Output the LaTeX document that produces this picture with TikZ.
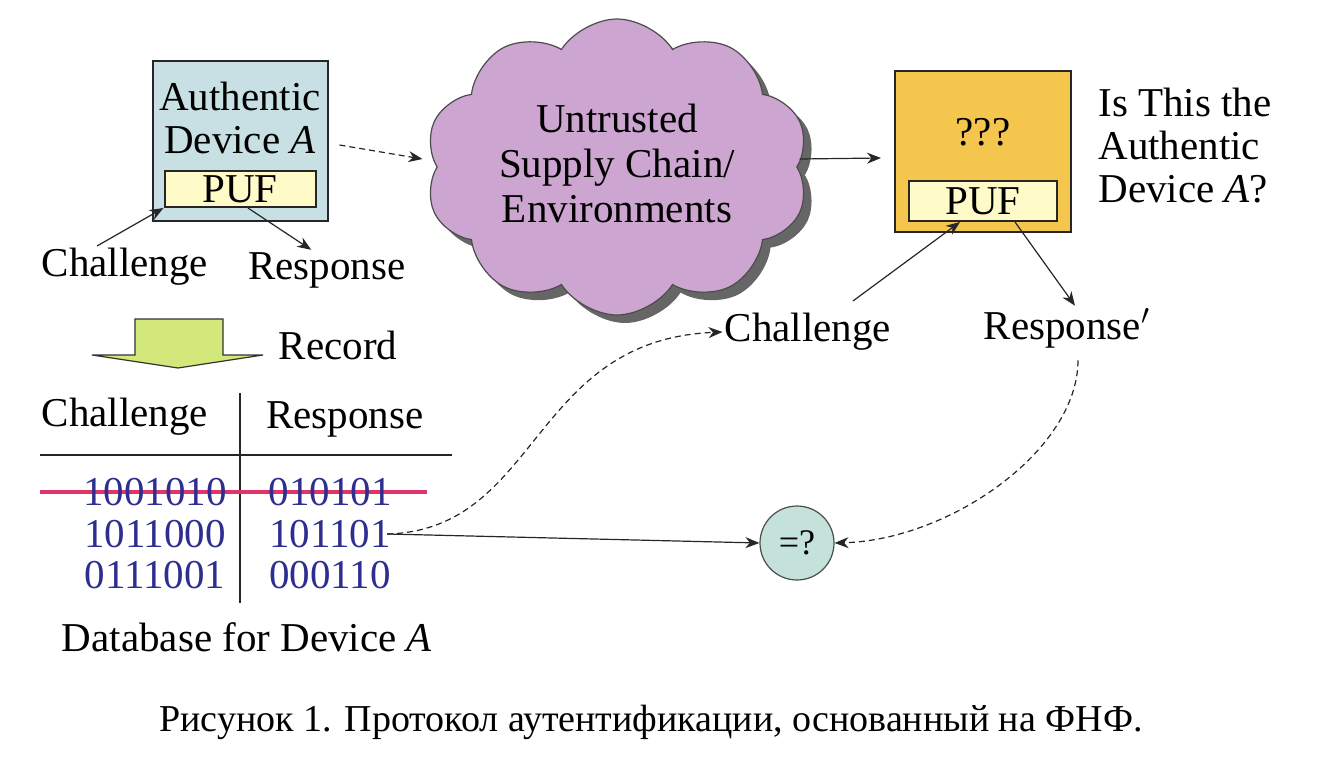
\documentclass[tikz,border=0pt]{standalone}
\usepackage{fontspec}
\setmainfont{Liberation Serif}
\newfontfamily\figserif{Liberation Serif}
\usetikzlibrary{shapes.symbols,shadows,arrows.meta,calc}
\definecolor{devblue}{RGB}{200,224,228}
\definecolor{pufyellow}{RGB}{255,251,200}
\definecolor{cloudpink}{RGB}{204,166,208}
\definecolor{devorange}{RGB}{244,198,78}
\definecolor{eqgreen}{RGB}{196,226,218}
\definecolor{recgreen}{RGB}{210,232,122}
\definecolor{bitblue}{RGB}{46,46,144}
\definecolor{strikered}{RGB}{226,52,104}
\tikzset{
  box/.style={draw=black!85,line width=1pt,inner sep=0pt},
  pufbox/.style={box,fill=pufyellow},
  lbl/.style={inner sep=1pt,font=\figserif\fontsize{20.5pt}{21.5pt}\selectfont},
  bits/.style={lbl,text=bitblue},
  arr/.style={-{Stealth[length=7pt,width=5.5pt]},line width=0.6pt,black!85},
}
\begin{document}
\begin{tikzpicture}[x=0.5pt,y=-0.5pt]
\useasboundingbox (0,0) rectangle (1330,760);
% authentic device
\node[box,fill=devblue,minimum width=87.5pt,minimum height=80pt] (devA) at (240,141) {};
\node[lbl,align=center] (devAtxt) at (240,118) {Authentic\\Device \textit{A}};
\node[pufbox,minimum width=75.5pt,minimum height=18pt] (pufA) at (240,189) {};
\node[lbl] (pufAtxt) at (240,189) {PUF};
\node[lbl] (chalA) at (125,267) {Challenge};
\node[lbl] (respA) at (327,270) {Response};
\draw[arr] (chalA.143) -- (pufA.south west);
\draw[arr] ($(pufA.south)+(8,0)$) -- (respA.128);
% supply chain
\node[cloud,cloud puffs=10,cloud puff arc=115,cloud ignores aspect,draw=black!70,line width=0.6pt,
  fill=cloudpink,minimum width=192pt,minimum height=148pt,inner sep=0pt,
  drop shadow={shadow xshift=4pt,shadow yshift=-4pt,fill=black!80,opacity=.75}] (cloud) at (617,167) {};
\node[lbl,align=center,font=\figserif\fontsize{20.5pt}{22.5pt}\selectfont] (cloudtxt) at (617,163) {Untrusted\\Supply Chain/\\Environments};
\draw[arr,densely dashed] ($(devA.east)+(11,4)$) -- ($(cloud.west)+(-14,-8)$);
% device under test
\node[box,fill=devorange,minimum width=88pt,minimum height=80.5pt] (devB) at (983,151) {};
\node[lbl] (devBtxt) at (983,132) {???};
\node[pufbox,minimum width=74pt,minimum height=20pt] (pufB) at (983,201) {};
\node[lbl] (pufBtxt) at (983,201) {PUF};
\node[lbl,align=left,anchor=west] (question) at (1096,146) {Is This the\\Authentic\\Device \textit{A}?};
\draw[arr] ($(cloud.east)+(2,-8)$) -- ($(devB.west)+(-13,7)$);
\node[lbl] (chalB) at (808,332) {Challenge};
\node[lbl] (respB) at (1067,328) {Response$'$};
\draw[arr] ($(chalB.north)+(45,-10)$) -- ($(pufB.south)+(-23,0)$);
\draw[arr] ($(pufB.south)+(32,0)$) -- ($(respB.north)+(8,0)$);
% record arrow
\draw[fill=recgreen,draw=black!80,line width=0.6pt] (135,319) -- (223,319) -- (223,355) -- (263,355)
  -- (178,368) -- (92,355) -- (135,355) -- cycle;
\node[lbl] (record) at (338,345) {Record};
% database
\node[lbl] (hdrchal) at (125,417) {Challenge};
\node[lbl] (hdrresp) at (345,419) {Response};
\draw[line width=1pt,black!85] (40,455) -- (452,455);
\draw[line width=1pt,black!85] (240,393) -- (240,603);
\draw[line width=2.2pt,strikered] (40,492) -- (427,492);
\foreach \ri/\rc/\rr/\ry in {1/1001010/010101/492,2/1011000/101101/534,3/0111001/000110/575}{
  \node[bits] (chal\ri) at (155,\ry) {\rc};
  \node[bits] (resp\ri) at (330,\ry) {\rr};
}
\node[lbl] (dbname) at (247,637) {Database for Device \textit{A}};
% comparison
\node[circle,draw=black!70,line width=0.6pt,fill=eqgreen,minimum size=37pt,inner sep=0pt,
  font=\figserif\fontsize{18pt}{20pt}\selectfont] (eq) at (797,543) {=?};
\draw[arr,densely dashed] ($(resp2.east)+(-6,0)$) .. controls (540,530) and (530,340) .. (chalB.west);
\draw[arr] ($(resp2.east)+(-6,0)$) -- (eq.west);
\draw[arr,densely dashed] ($(respB.south)+(11,10)$) .. controls (1078,450) and (950,540) .. (eq.east);
% caption
\node[inner sep=0pt,font=\figserif\fontsize{19pt}{22pt}\selectfont] (caption) at (651,722) {Рисунок 1. Протокол аутентификации, основанный на ФНФ.};
\end{tikzpicture}
\end{document}
